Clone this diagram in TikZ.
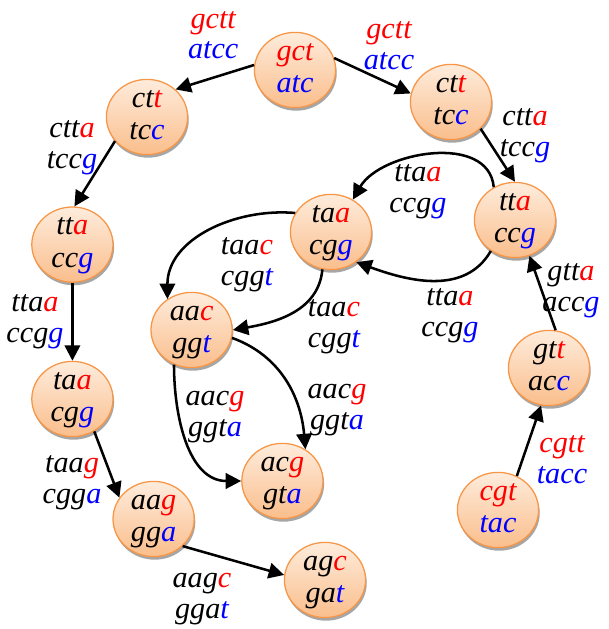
\documentclass[tikz,border=0pt]{standalone}
\usepackage{fontspec}
\setmainfont{Liberation Serif}
\usetikzlibrary{shapes.geometric,arrows.meta,shadows}
\definecolor{kmerborder}{RGB}{247,150,70}
\definecolor{kmertop}{RGB}{254,236,220}
\definecolor{kmerbottom}{RGB}{250,190,140}
\newcommand{\kmer}[4]{#1\textcolor{red}{#2}\strut\\#3\textcolor{blue}{#4}\strut}

\begin{document}
\begin{tikzpicture}[
    kmer/.style={
        ellipse, draw=kmerborder, line width=0.9pt,
        top color=kmertop, bottom color=kmerbottom,
        minimum width=2.03cm, minimum height=1.88cm,
        inner xsep=0pt, inner ysep=-8pt,
        align=center, font=\fontsize{21.5}{23}\selectfont\itshape,
        drop shadow={shadow xshift=0.8pt, shadow yshift=-2.2pt, fill=black!35, opacity=1}
    },
    lbl/.style={inner sep=0pt, align=center, font=\fontsize{21.5}{21.5}\selectfont\itshape},
    arrow/.style={-{Triangle[length=11pt,width=11pt]}, line width=1.8pt}
]
\useasboundingbox (0,0) rectangle (15.2,15.725);

% Outer path of 3-mers
\node[kmer] (gct) at (7.375, 13.975) {\kmer{}{gct}{}{atc}};
\node[kmer] (ctt_l) at (3.675, 12.8) {\kmer{ct}{t}{tc}{c}};
\node[kmer] (tta_l) at (1.81, 9.61) {\kmer{tt}{a}{cc}{g}};
\node[kmer] (taa_l) at (1.81, 5.75) {\kmer{ta}{a}{cg}{g}};
\node[kmer] (aag) at (3.84, 2.75) {\kmer{aa}{g}{gg}{a}};
\node[kmer] (agc) at (8.125, 1.225) {\kmer{ag}{c}{ga}{t}};
\node[kmer] (ctt_r) at (11.275, 13.175) {\kmer{ct}{t}{tc}{c}};
\node[kmer] (tta_r) at (12.875, 10.225) {\kmer{tt}{a}{cc}{g}};
\node[kmer] (gtt) at (13.725, 6.525) {\kmer{gt}{t}{ac}{c}};
\node[kmer] (cgt) at (12.45, 2.975) {\kmer{}{cgt}{}{tac}};

% Inner loop
\node[kmer] (taa_c) at (8.275, 9.925) {\kmer{ta}{a}{cg}{g}};
\node[kmer] (aac) at (4.79, 7.475) {\kmer{aa}{c}{gg}{t}};
\node[kmer] (acg) at (7.06, 3.7) {\kmer{ac}{g}{gt}{a}};

% Straight edges
\draw[arrow] (gct.173) -- (ctt_l.44);
\draw[arrow] (gct.17) -- (ctt_r.168);
\draw[arrow] (ctt_l.217) -- (tta_l.87);
\draw[arrow] (ctt_r.318) -- (tta_r.90);
\draw[arrow] (tta_l) -- (taa_l);
\draw[arrow] (taa_l.304) -- (aag.148);
\draw[arrow] (aag.317) -- (agc.173);
\draw[arrow] (cgt.61) -- (gtt.258);
\draw[arrow] (gtt.80) -- (tta_r.292);

% Curved edges
\draw[arrow] (tta_r.123) to[out=95, in=60] (taa_c.56);
\draw[arrow] (tta_r.232) to[out=240, in=340] (taa_c.310);
\draw[arrow] (taa_c.152) to[out=175, in=90] (aac.128);
\draw[arrow] (taa_c.257) to[out=265, in=10] (aac.0);
\draw[arrow] (aac.243) to[out=270, in=180] (acg.180);
\draw[arrow] (aac.349) to[out=340, in=95] (acg.54);

% Edge labels
\node[lbl] (lab_gct_l) at (5.33, 14.78) {\kmer{}{gctt}{}{atcc}};
\node[lbl] (lab_gct_r) at (9.725, 14.525) {\kmer{}{gctt}{}{atcc}};
\node[lbl] (lab_ctt_l) at (1.8, 12.05) {\kmer{ctt}{a}{tcc}{g}};
\node[lbl] (lab_ctt_r) at (13.125, 12.35) {\kmer{ctt}{a}{tcc}{g}};
\node[lbl] (lab_tta_l) at (0.875, 7.7) {\kmer{tta}{a}{ccg}{g}};
\node[lbl] (lab_taa_l) at (1.8, 3.675) {\kmer{taa}{g}{cgg}{a}};
\node[lbl] (lab_aag) at (5.05, 0.8) {\kmer{aag}{c}{gga}{t}};
\node[lbl] (lab_aac_l) at (5.375, 5.35) {\kmer{aac}{g}{ggt}{a}};
\node[lbl] (lab_aac_r) at (8.425, 5.525) {\kmer{aac}{g}{ggt}{a}};
\node[lbl] (lab_taa_r) at (8.35, 7.575) {\kmer{taa}{c}{cgg}{t}};
\node[lbl] (lab_taa_c) at (6.175, 9.125) {\kmer{taa}{c}{cgg}{t}};
\node[lbl] (lab_tta_t) at (10.45, 10.95) {\kmer{tta}{a}{ccg}{g}};
\node[lbl] (lab_tta_b) at (11.25, 7.85) {\kmer{tta}{a}{ccg}{g}};
\node[lbl] (lab_gtt) at (14.275, 8.475) {\kmer{gtt}{a}{acc}{g}};
\node[lbl] (lab_cgt) at (14.05, 4.175) {\kmer{}{cgtt}{}{tacc}};

\end{tikzpicture}
\end{document}
